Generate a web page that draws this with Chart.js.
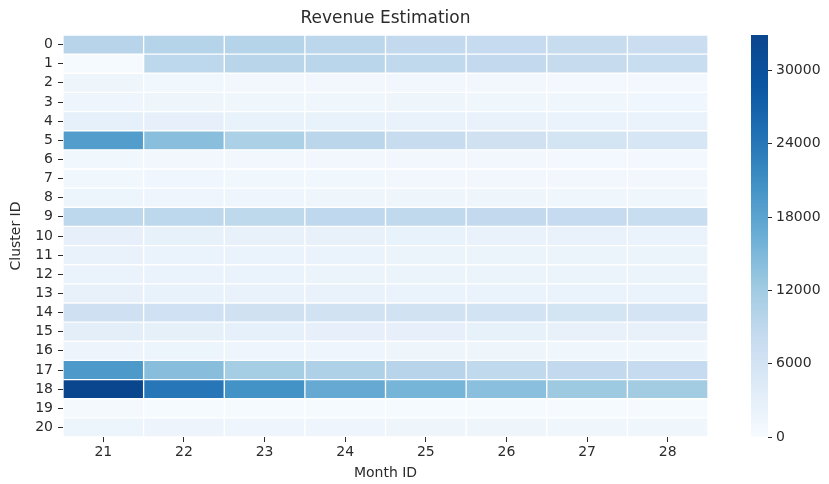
<!DOCTYPE html>
<html>
<head>
<meta charset="utf-8">
<script src="https://cdn.jsdelivr.net/npm/chart.js@4/dist/chart.umd.min.js"></script>
<style>
  html, body { margin: 0; padding: 0; background: #fff; }
  #wrap { position: relative; width: 829px; height: 484px; }
  #heat { position: absolute; left: 0; top: 0; }
  #bar { position: absolute; left: 740px; top: 0; }
</style>
</head>
<body>
<div id="wrap">
  <canvas id="heat" width="730" height="484"></canvas>
  <canvas id="bar" width="89" height="484"></canvas>
</div>
<script>
// Cluster ids (rows) and month ids (columns)
const clusters = [0,1,2,3,4,5,6,7,8,9,10,11,12,13,14,15,16,17,18,19,20];
const months = [21,22,23,24,25,26,27,28];

// Estimated revenue per cluster, one array per month
const m21 = [9800,  300, 1400, 1500, 2800, 19000, 1100, 1100, 1600, 9200, 2700, 2300, 2200, 2500, 6900, 3300, 1700, 19600, 32900,  500, 1600];
const m22 = [10000, 9200, 1100, 1400, 2700, 14000, 1000, 1200, 1500, 9200, 2600, 2200, 2100, 2400, 6700, 2900, 1600, 14100, 24000,  300, 1700];
const m23 = [9900, 9600,  900, 1300, 2400, 10900, 1000, 1100, 1500, 9000, 2500, 2100, 2100, 2300, 6500, 2800, 1500, 11600, 20400,  300, 1500];
const m24 = [9300, 9500,  900, 1300, 2400,  9350,  900, 1100, 1400, 8900, 2500, 2100, 2000, 2300, 6400, 2700, 1500, 10700, 17000,  300, 1500];
const m25 = [8600, 8700, 1000, 1400, 2300,  7900,  900, 1000, 1400, 8800, 2400, 2000, 2000, 2200, 6300, 2700, 1400,  9800, 15600,  300, 1400];
const m26 = [8200, 8500,  900, 1300, 2300,  6500,  900, 1000, 1400, 8500, 2300, 2000, 1900, 2200, 6200, 2600, 1400,  8700, 13950,  300, 1400];
const m27 = [8000, 8100,  800, 1300, 2200,  6000,  800, 1000, 1300, 8200, 2300, 1900, 1900, 2100, 6000, 2500, 1300,  8500, 12300,  300, 1300];
const m28 = [7400, 7800,  800, 1200, 2200,  5300,  800,  900, 1300, 7700, 2200, 1900, 1800, 2100, 5800, 2500, 1300,  8200, 11800,  300, 1300];
const monthSeries = [m21, m22, m23, m24, m25, m26, m27, m28];

// Colour bar ticks
const barTicks = [0, 6000, 12000, 18000, 24000, 30000];

const vmin = 0;
const vmax = Math.max(...monthSeries.flat());

// Sequential blue palette stops, light to dark
const BLUES = [
  [247,251,255],[222,235,247],[198,219,239],[158,202,225],[107,174,214],
  [66,146,198],[33,113,181],[10,86,162],[10,70,142]
];
function blues(t) {
  t = Math.min(1, Math.max(0, t));
  const pos = t * (BLUES.length - 1);
  const i = Math.min(BLUES.length - 2, Math.floor(pos));
  const f = pos - i;
  const a = BLUES[i], b = BLUES[i + 1];
  const c = a.map((v, k) => Math.round(v + (b[k] - v) * f));
  return `rgb(${c[0]},${c[1]},${c[2]})`;
}

const FONT = "'DejaVu Sans', sans-serif";
const TXT = '#2b2b2b';

// Heatmap: each month is a column of floating bars spanning [month-0.5, month+0.5]
const datasets = months.map((m, j) => ({
  label: String(m),
  data: clusters.map(() => [m - 0.5, m + 0.5]),
  backgroundColor: clusters.map((c, i) => blues((monthSeries[j][i] - vmin) / (vmax - vmin))),
  borderColor: '#ffffff',
  borderWidth: 1,
  borderSkipped: false,
  barPercentage: 1,
  categoryPercentage: 1,
  grouped: false
}));

new Chart(document.getElementById('heat'), {
  type: 'bar',
  data: { labels: clusters.map(String), datasets },
  options: {
    indexAxis: 'y',
    responsive: false,
    animation: false,
    layout: { padding: { left: 6, right: 22, top: 0, bottom: 0 } },
    plugins: {
      legend: { display: false },
      tooltip: { enabled: false },
      title: {
        display: true,
        fullSize: false,
        text: 'Revenue Estimation',
        color: TXT,
        font: { family: FONT, size: 17, weight: 'normal' },
        padding: { top: 8, bottom: 6.6 }
      }
    },
    scales: {
      x: {
        type: 'linear',
        min: months[0] - 0.5,
        max: months[months.length - 1] + 0.5,
        afterBuildTicks: s => { s.ticks = months.map(v => ({ value: v })); },
        afterFit: s => { s.height = 47; },
        border: { display: false },
        grid: { drawOnChartArea: false, color: TXT, tickLength: 5, tickWidth: 1 },
        ticks: { color: TXT, padding: 2, font: { family: FONT, size: 14 } },
        title: { display: true, text: 'Month ID', color: TXT, padding: { top: 2, bottom: 2 }, font: { family: FONT, size: 14 } }
      },
      y: {
        type: 'category',
        afterFit: s => { s.width = 57; },
        border: { display: false },
        grid: { offset: false, drawOnChartArea: false, color: TXT, tickLength: 5, tickWidth: 1 },
        ticks: { color: TXT, padding: 5, autoSkip: false, font: { family: FONT, size: 14 } },
        title: { display: true, text: 'Cluster ID', color: TXT, padding: { top: 2, bottom: 2 }, font: { family: FONT, size: 14 } }
      }
    }
  }
});

// Colour bar: a single floating bar filled with the palette gradient
new Chart(document.getElementById('bar'), {
  type: 'bar',
  data: {
    labels: [''],
    datasets: [{
      data: [[vmin, vmax]],
      backgroundColor: ctx => {
        const ca = ctx.chart.chartArea;
        if (!ca) return 'rgb(247,251,255)';
        const g = ctx.chart.ctx.createLinearGradient(0, ca.bottom, 0, ca.top);
        BLUES.forEach((c, i) => g.addColorStop(i / (BLUES.length - 1), `rgb(${c[0]},${c[1]},${c[2]})`));
        return g;
      },
      borderWidth: 0,
      barPercentage: 1,
      categoryPercentage: 1
    }]
  },
  options: {
    responsive: false,
    animation: false,
    layout: { padding: { left: 11, right: 0, top: 35, bottom: 47 } },
    plugins: { legend: { display: false }, tooltip: { enabled: false } },
    scales: {
      x: { display: false },
      y: {
        position: 'right',
        min: vmin,
        max: vmax,
        afterBuildTicks: s => { s.ticks = barTicks.map(v => ({ value: v })); },
        afterFit: s => { s.width = 61; },
        border: { display: false },
        grid: { drawOnChartArea: false, color: TXT, tickLength: 4, tickWidth: 1 },
        ticks: { color: TXT, padding: 4, font: { family: FONT, size: 14 }, callback: v => String(v) }
      }
    }
  }
});
</script>
</body>
</html>
